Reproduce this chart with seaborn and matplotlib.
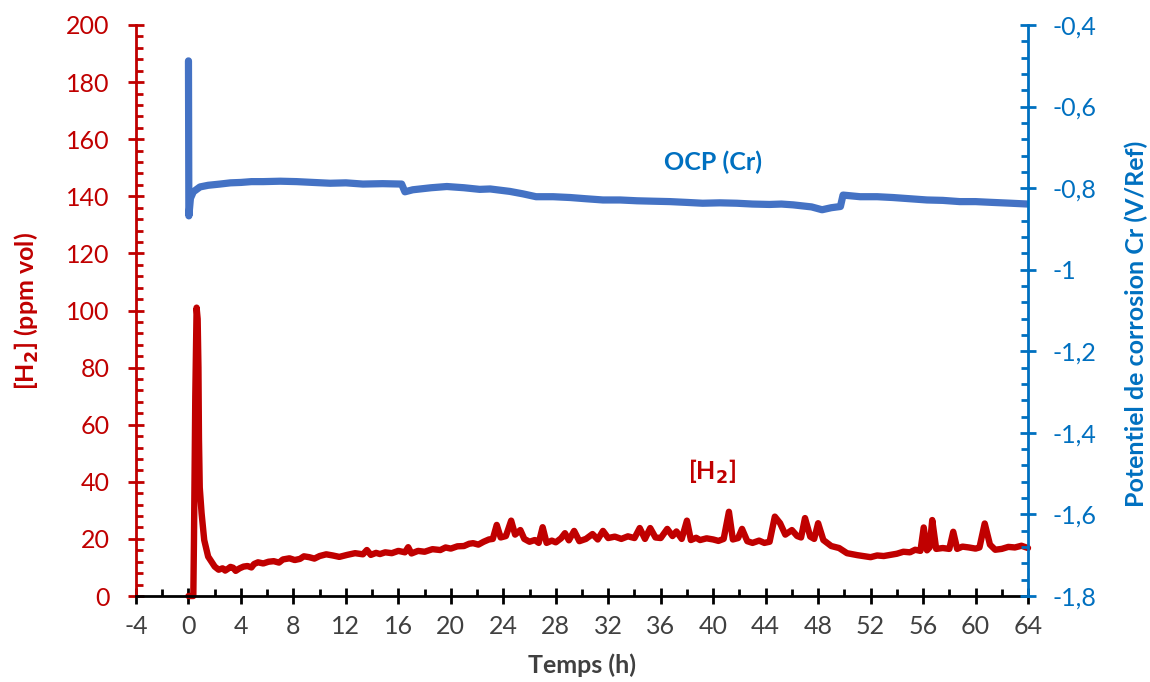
import matplotlib
matplotlib.use("Agg")
import matplotlib.pyplot as plt
import seaborn as sns
import pandas as pd
from matplotlib.ticker import MultipleLocator, FixedLocator, FixedFormatter

# ---------------- data ----------------
time_h2 = [0.0, 0.37, 0.42, 0.52, 0.62, 0.70, 0.76, 0.80, 0.86, 1.0, 1.2, 1.5, 2.0,
           2.3, 2.6, 2.8, 3.0, 3.2, 3.4, 3.6, 3.9, 4.2, 4.5, 4.8, 5.0, 5.3, 5.7, 6.1,
           6.5, 6.9, 7.2, 7.7, 8.1, 8.5, 8.8, 9.2, 9.6, 10.0, 10.5, 11.0, 11.5,
           12.1, 12.7, 13.3, 13.6, 13.9, 14.3, 14.6, 15.0, 15.5, 16.0, 16.5, 16.75,
           17.0, 17.5, 18.0, 18.6, 19.2, 19.6, 20.0, 20.5, 21.0, 21.4, 21.7, 22.1,
           22.5, 22.9, 23.2, 23.5, 23.8, 24.2, 24.6, 24.9, 25.3, 25.6, 26.0, 26.4,
           26.7, 27.0, 27.3, 27.7, 28.0, 28.4, 28.7, 29.0, 29.4, 29.8, 30.3, 30.8,
           31.2, 31.6, 32.0, 32.5, 33.0, 33.5, 34.0, 34.4, 34.8, 35.2, 35.6, 36.0,
           36.5, 36.9, 37.2, 37.6, 38.0, 38.3, 38.7, 39.0, 39.5, 40.0, 40.4, 40.8,
           41.2, 41.5, 41.9, 42.2, 42.6, 43.0, 43.5, 43.9, 44.3, 44.7, 45.1, 45.5,
           46.0, 46.4, 46.7, 47.0, 47.4, 47.7, 48.0, 48.4, 49.0, 49.6, 50.2, 51.0,
           51.6, 52.0, 52.5, 53.0, 53.5, 54.0, 54.5, 55.0, 55.4, 55.8, 56.05, 56.3,
           56.5, 56.7, 57.0, 57.5, 58.0, 58.3, 58.6, 59.0, 59.5, 60.0, 60.3, 60.7,
           61.1, 61.5, 62.0, 62.5, 63.0, 63.5, 64.0]
h2_ppm = [0.0, 0.0, 20.0, 70.0, 101.0, 97.0, 80.0, 55.0, 38.0, 29.0, 19.6, 13.8, 10.3,
          9.2, 9.7, 8.9, 9.5, 10.2, 9.9, 8.8, 9.7, 10.3, 10.5, 10.0, 11.2, 11.8, 11.4,
          12.0, 12.2, 11.7, 12.8, 13.2, 12.6, 13.0, 13.9, 13.6, 13.1, 14.0, 14.6,
          14.2, 13.7, 14.4, 15.0, 14.6, 16.1, 14.4, 15.1, 14.7, 15.3, 15.0, 15.8,
          15.3, 17.1, 14.9, 15.8, 15.5, 16.4, 16.1, 17.0, 16.6, 17.4, 17.5, 18.3,
          18.5, 18.0, 19.0, 19.8, 20.0, 24.9, 20.5, 21.0, 26.4, 21.5, 23.1, 20.0,
          19.0, 19.6, 18.6, 24.1, 18.6, 19.4, 18.8, 20.2, 22.0, 19.5, 22.8, 19.2,
          20.0, 21.7, 19.8, 22.8, 20.3, 20.8, 20.0, 20.9, 20.3, 23.8, 20.0, 23.8,
          20.5, 20.3, 23.5, 21.0, 22.6, 20.0, 26.4, 19.6, 20.4, 19.6, 20.2, 19.8,
          19.3, 20.0, 29.5, 19.8, 20.3, 23.5, 19.2, 18.6, 19.4, 18.6, 19.0, 27.8,
          25.5, 21.5, 23.1, 21.0, 20.5, 27.3, 20.8, 20.0, 25.5, 19.6, 17.5, 16.8,
          15.0, 14.3, 13.9, 13.6, 14.2, 14.0, 14.4, 14.8, 15.5, 15.3, 16.2, 15.8,
          24.0, 16.0, 17.0, 26.6, 16.5, 16.8, 16.5, 22.5, 16.5, 17.3, 17.0, 16.6,
          17.0, 25.4, 18.0, 16.2, 16.5, 17.2, 17.0, 17.6, 16.8]

time_ocp = [0.0, 0.03, 0.15, 0.37, 0.88, 1.5, 2.4, 3.2, 4.0, 4.8, 5.7, 7.0, 8.25, 9.5,
            10.8, 12.0, 13.3, 14.8, 16.25, 16.5, 17.1, 18.5, 19.7, 21.0, 22.2, 23.0,
            24.5, 25.5, 26.5, 27.8, 29.1, 30.3, 31.6, 32.9, 34.2, 35.4, 36.7, 38.0,
            39.2, 40.5, 41.8, 43.0, 44.3, 45.2, 46.1, 47.5, 48.3, 49.0, 49.7, 49.9,
            51.2, 52.5, 53.7, 55.0, 56.3, 57.5, 58.8, 60.0, 61.3, 62.7, 64.0]
ocp_v = [-0.488, -0.868, -0.825, -0.809, -0.797, -0.793, -0.790, -0.787, -0.786,
         -0.784, -0.784, -0.783, -0.784, -0.786, -0.788, -0.787, -0.790, -0.789,
         -0.790, -0.809, -0.804, -0.799, -0.796, -0.799, -0.803, -0.802, -0.808,
         -0.814, -0.821, -0.821, -0.823, -0.826, -0.829, -0.829, -0.831, -0.832,
         -0.833, -0.835, -0.837, -0.836, -0.837, -0.839, -0.840, -0.839, -0.841,
         -0.846, -0.853, -0.848, -0.845, -0.817, -0.821, -0.821, -0.823, -0.826,
         -0.829, -0.830, -0.833, -0.833, -0.835, -0.837, -0.839]

x_ticks = list(range(-4, 65, 4))
h2_ticks = list(range(0, 201, 20))
ocp_ticks = [-1.8, -1.6, -1.4, -1.2, -1.0, -0.8, -0.6, -0.4]
ocp_tick_labels = ["-1,8", "-1,6", "-1,4", "-1,2", "-1", "-0,8", "-0,6", "-0,4"]

# ---------------- style ----------------
RED = "#C00000"
BLUE_AX = "#0070C0"
BLUE_LINE = "#4472C4"
GREY = "#404040"

sns.set_theme(style="white")
plt.rcParams["font.family"] = ["Lato", "DejaVu Sans"]
plt.rcParams["axes.unicode_minus"] = False

fig = plt.figure(figsize=(11.5, 6.82), dpi=100)
ax = fig.add_axes([136 / 1150, 1 - 596 / 682, (1028 - 136) / 1150, (596 - 25) / 682])
ax2 = ax.twinx()

df_h2 = pd.DataFrame({"t": time_h2, "h2": h2_ppm})
df_ocp = pd.DataFrame({"t": time_ocp, "ocp": ocp_v})

sns.lineplot(data=df_h2, x="t", y="h2", ax=ax, color=RED, linewidth=4.6,
             sort=False, estimator=None, clip_on=False)
sns.lineplot(data=df_ocp, x="t", y="ocp", ax=ax2, color=BLUE_LINE, linewidth=5.2,
             sort=False, estimator=None)

ax.set_xlim(-4, 64)
ax.set_ylim(0, 200)
ax2.set_ylim(-1.8, -0.4)

# spines
for s in ["top", "right"]:
    ax.spines[s].set_visible(False)
for s in ["top", "left", "bottom"]:
    ax2.spines[s].set_visible(False)
ax.spines["left"].set_color(RED)
ax.spines["left"].set_linewidth(2)
ax.spines["bottom"].set_color("black")
ax.spines["bottom"].set_linewidth(2)
ax2.spines["right"].set_color(BLUE_AX)
ax2.spines["right"].set_linewidth(2)

# ticks
ax.xaxis.set_major_locator(FixedLocator(x_ticks))
ax.xaxis.set_minor_locator(MultipleLocator(2))
ax.yaxis.set_major_locator(FixedLocator(h2_ticks))
ax.yaxis.set_minor_locator(MultipleLocator(4))
ax2.yaxis.set_major_locator(FixedLocator(ocp_ticks))
ax2.yaxis.set_major_formatter(FixedFormatter(ocp_tick_labels))
ax2.yaxis.set_minor_locator(MultipleLocator(0.04))

ax.tick_params(axis="x", which="major", direction="inout", length=11, width=2,
               color="black", labelcolor=GREY, labelsize=18, pad=8, bottom=True)
ax.tick_params(axis="x", which="minor", direction="in", length=5, width=2,
               color="black", bottom=True)
ax.tick_params(axis="y", which="major", direction="inout", length=12, width=2,
               color=RED, labelcolor=RED, labelsize=18, pad=13, left=True)
ax.tick_params(axis="y", which="minor", direction="in", length=5, width=2,
               color=RED, left=True)
ax2.tick_params(axis="y", which="major", direction="inout", length=12, width=2,
                color=BLUE_AX, labelcolor=BLUE_AX, labelsize=18, pad=12, right=True)
ax2.tick_params(axis="y", which="minor", direction="in", length=5, width=2,
                color=BLUE_AX, right=True)

ax.set_xlabel("Temps (h)", fontsize=18, fontweight="bold", color=GREY, va="center")
ax.set_ylabel("[H$_\\mathbf{2}$] (ppm vol)", fontsize=18, fontweight="bold", color=RED,
              va="center")
ax2.set_ylabel("Potentiel de corrosion Cr (V/Ref)", fontsize=18, fontweight="bold",
               color=BLUE_AX, va="center")
ax.xaxis.set_label_coords(0.5, -0.121)
ax.yaxis.set_label_coords(-0.122, 0.5)
ax2.yaxis.set_label_coords(1.121, 0.476)

ax.text(40.0, 152, "OCP (Cr)", color=BLUE_AX, fontsize=18, fontweight="bold",
        ha="center", va="center")
ax.text(39.9, 43.5, "[H$_\\mathbf{2}$]", color=RED, fontsize=18, fontweight="bold",
        ha="center", va="center")

ax.grid(False)
ax2.grid(False)

fig.savefig("out.png", dpi=100)
